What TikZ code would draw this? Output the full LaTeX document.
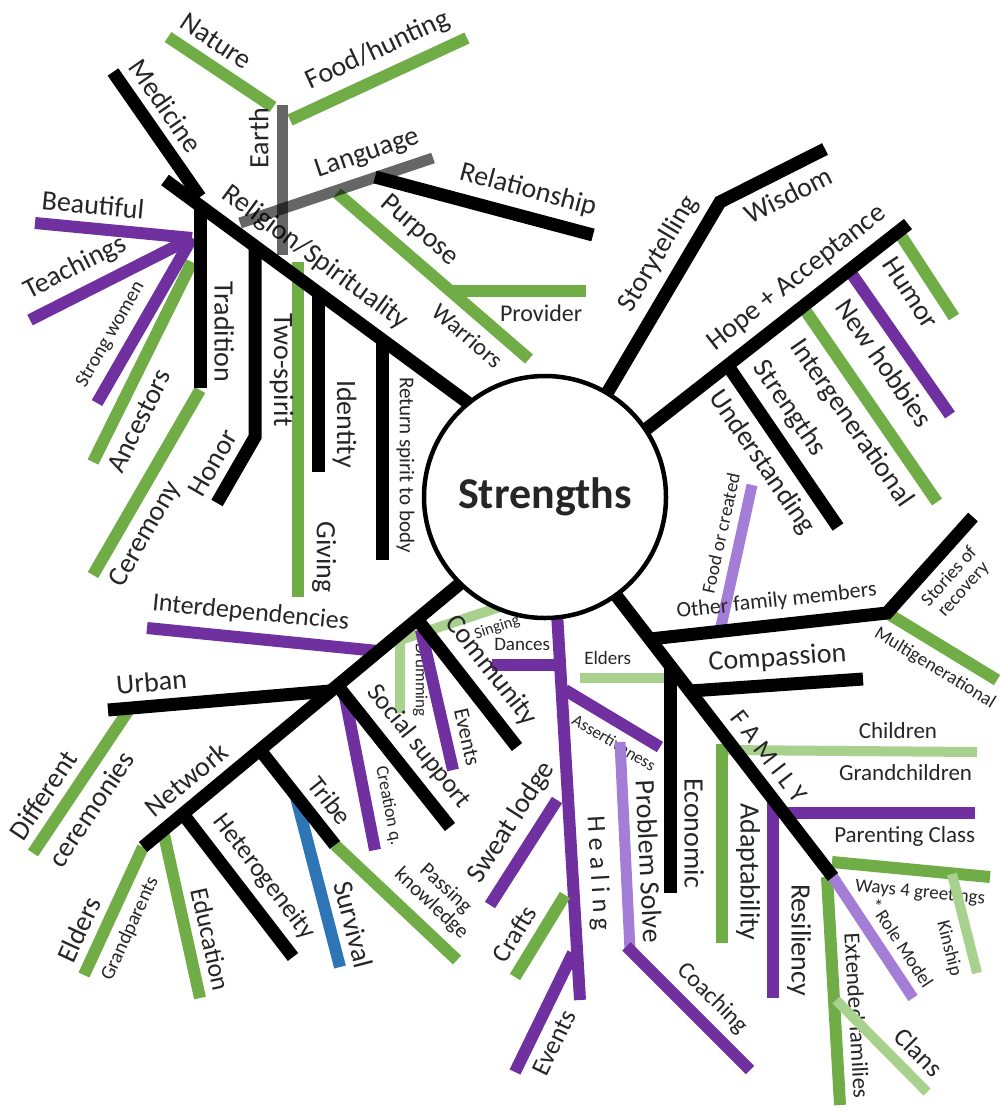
\documentclass[tikz,border=0pt]{standalone}
\usepackage{fontspec}
\setmainfont{Carlito}
\definecolor{cgreen}{HTML}{70AD47}
\definecolor{cpurple}{HTML}{7030A0}
\definecolor{clgreen}{HTML}{A9D18E}
\definecolor{clpurple}{HTML}{A47DD6}
\definecolor{cblue}{HTML}{2E75B6}
\definecolor{ctext}{HTML}{262626}
\tikzset{
  blk/.style={line width=13pt, draw=black},
  grn/.style={line width=12pt, draw=cgreen},
  pur/.style={line width=12pt, draw=cpurple},
  lgrn/.style={line width=10pt, draw=clgreen},
  lpur/.style={line width=11pt, draw=clpurple},
  blu/.style={line width=12pt, draw=cblue},
  gry/.style={line width=11pt, draw=black, draw opacity=0.6},
  fs/.style={font=\fontsize{#1}{#1}\selectfont},
  lab/.style={text=ctext, inner sep=8pt, fs=28},
  vlab/.style={lab, rotate=-90, anchor=south},
}
\begin{document}
\begin{tikzpicture}[x=1pt,y=-1pt]
\useasboundingbox (0,0) rectangle (999,1111);
\fill[white] (0,0) rectangle (999,1111);

% ---------- points: Religion / Spirituality cluster
\coordinate (rel0) at (165,180);  \coordinate (rel1) at (475,408);
\coordinate (med0) at (113,72);   \coordinate (med1) at (200,197);
\coordinate (tra0) at (200,206);  \coordinate (tra1) at (200,388);
\coordinate (hub)  at (192,238);
\coordinate (bea)  at (35,223);   \coordinate (tea) at (30,320);  \coordinate (stw) at (97,403);
\coordinate (anc0) at (93,462);   \coordinate (anc1) at (192,262);
\coordinate (cer0) at (93,575);   \coordinate (cer1) at (200,390);
\coordinate (tws0) at (255,244);  \coordinate (tws1) at (255,437); \coordinate (hon) at (217,503);
\coordinate (giv0) at (298,262);  \coordinate (giv1) at (298,597);
\coordinate (ide0) at (318,292);  \coordinate (ide1) at (318,472);
\coordinate (ret0) at (382,338);  \coordinate (ret1) at (382,560);
\coordinate (ear0) at (282,105);  \coordinate (ear1) at (282,255);
\coordinate (nat0) at (168,37);   \coordinate (nat1) at (273,107);
\coordinate (foo0) at (290,120);  \coordinate (foo1) at (467,38);
\coordinate (lan0) at (240,223);  \coordinate (lan1) at (433,158);
\coordinate (rls0) at (375,177);  \coordinate (rls1) at (593,235);
\coordinate (pur0) at (337,193);  \coordinate (pur1) at (529,359);
\coordinate (pro0) at (450,291);  \coordinate (pro1) at (586,291);

% ---------- points: upper right
\coordinate (sto0) at (603,400);  \coordinate (sto1) at (720,202); \coordinate (wis) at (825,149);
\coordinate (hop0) at (640,434);  \coordinate (hop1) at (908,224);
\coordinate (hum0) at (898,231);  \coordinate (hum1) at (954,317);
\coordinate (nho0) at (849,270);  \coordinate (nho1) at (950,415);
\coordinate (int0) at (803,307);  \coordinate (int1) at (937,502);
\coordinate (stn0) at (728,366);  \coordinate (stn1) at (838,527);

% ---------- points: family
\coordinate (fam0) at (605,581);  \coordinate (fam1) at (833,877); \coordinate (rol) at (913,998);
\coordinate (oth0) at (650,639);  \coordinate (oth1) at (887,613); \coordinate (sor) at (973,517);
\coordinate (mul)  at (997,680);
\coordinate (fcr0) at (720,631);  \coordinate (fcr1) at (752,485);
\coordinate (com0) at (690,691);  \coordinate (com1) at (863,679);
\coordinate (eco0) at (670,665);  \coordinate (eco1) at (670,893);
\coordinate (eld0) at (580,678);  \coordinate (eld1) at (664,678);
\coordinate (chi0) at (722,750);  \coordinate (chi1) at (977,752);
\coordinate (ada0) at (722,744);  \coordinate (ada1) at (722,943);
\coordinate (par0) at (785,813);  \coordinate (par1) at (975,813);
\coordinate (res0) at (773,799);  \coordinate (res1) at (773,998);
\coordinate (way0) at (832,862);  \coordinate (way1) at (990,877);
\coordinate (kin0) at (952,874);  \coordinate (kin1) at (977,973);
\coordinate (ext0) at (827,877);  \coordinate (ext1) at (840,1105);
\coordinate (cla0) at (836,1000); \coordinate (cla1) at (927,1092);

% ---------- points: healing
\coordinate (hea0) at (556,596);  \coordinate (hea1) at (580,1000);
\coordinate (dan0) at (492,665);  \coordinate (dan1) at (562,665);
\coordinate (ass0) at (565,690);  \coordinate (ass1) at (660,747);
\coordinate (prs0) at (620,742);  \coordinate (prs1) at (630,950); \coordinate (coa) at (750,1070);
\coordinate (swe0) at (490,905);  \coordinate (swe1) at (557,800);
\coordinate (cra0) at (515,977);  \coordinate (cra1) at (565,895);
\coordinate (evb0) at (515,1072); \coordinate (evb1) at (573,953);

% ---------- points: community / network
\coordinate (net0) at (143,847);  \coordinate (net1) at (480,567);
\coordinate (cmm0) at (417,619);  \coordinate (cmm1) at (517,747);
\coordinate (sin0) at (400,640);  \coordinate (sin1) at (506,605); \coordinate (dru) at (400,713);
\coordinate (evc0) at (421,630);  \coordinate (evc1) at (453,770);
\coordinate (itd0) at (147,628);  \coordinate (itd1) at (378,651);
\coordinate (urb0) at (108,710);  \coordinate (urb1) at (330,691);
\coordinate (dif0) at (33,853);   \coordinate (dif1) at (130,708);
\coordinate (soc0) at (337,685);  \coordinate (soc1) at (450,827);
\coordinate (cre0) at (345,697);  \coordinate (cre1) at (375,850);
\coordinate (tri0) at (260,750);  \coordinate (tri1) at (335,845);
\coordinate (sur0) at (296,797);  \coordinate (sur1) at (340,967);
\coordinate (pas0) at (335,845);  \coordinate (pas1) at (457,960);
\coordinate (het0) at (183,814);  \coordinate (het1) at (293,957);
\coordinate (eln0) at (84,975);   \coordinate (eln1) at (143,847);
\coordinate (edu0) at (163,830);  \coordinate (edu1) at (200,998);

% ================= coloured twigs
\draw[pur] (bea) -- (hub) node[lab, sloped, above, pos=.356] (t-bea) {Beautiful};
\draw[pur] (tea) -- (hub) node[lab, sloped, above, pos=.353] (t-tea) {Teachings};
\draw[pur] (stw) -- (hub) node[lab, fs=20, sloped, above, pos=.347] (t-stw) {Strong women};
\draw[grn] (anc0) -- (anc1) node[lab, sloped, below, pos=.256] (t-anc) {Ancestors};
\draw[grn] (cer0) -- (cer1) node[lab, sloped, below, pos=.288] (t-cer) {Ceremony};
\draw[grn] (giv0) -- (giv1) node[vlab, pos=.881] (t-giv) {Giving};
\draw[grn] (nat0) -- (nat1) node[lab, sloped, above, pos=.334] (t-nat) {Nature};
\draw[grn] (foo0) -- (foo1) node[lab, sloped, above, pos=.559] (t-foo) {Food/hunting};
\draw[grn] (pur0) -- (pur1) node[lab, sloped, above, pos=.342] (t-pps) {Purpose}
                            node[lab, fs=24, sloped, below, pos=.758] (t-war) {Warriors};
\draw[grn] (pro0) -- (pro1) node[lab, fs=24, below, pos=.67] (t-pro) {Provider};

\draw[grn] (hum0) -- (hum1) node[lab, sloped, below, pos=.573] (t-hum) {Humor};
\draw[pur] (nho0) -- (nho1) node[lab, sloped, below, pos=.547] (t-nho) {New hobbies};
\draw[grn] (int0) -- (int1) node[lab, sloped, below, pos=.52] (t-int) {Intergenerational};

\draw[lpur] (fcr0) -- (fcr1) node[lab, fs=19, sloped, above, pos=.64] (t-fcr) {Food or created};
\draw[grn] (oth1) -- (mul) node[lab, fs=19, sloped, below, pos=.54] (t-mul) {Multigenerational};
\draw[lgrn] (eld0) -- (eld1) node[lab, fs=19, above, pos=.33] (t-eld) {Elders};
\draw[lgrn] (chi0) -- (chi1) node[lab, fs=23, above, pos=.69] (t-chi) {Children}
                              node[lab, fs=23, below, pos=.72] (t-gch) {Grandchildren};
\draw[grn] (ada0) -- (ada1) node[vlab, pos=.643] (t-ada) {Adaptability};
\draw[pur] (par0) -- (par1) node[lab, fs=23, below, pos=.63] (t-par) {Parenting Class};
\draw[pur] (res0) -- (res1) node[vlab, pos=.709] (t-res) {Resiliency};
\draw[grn] (way0) -- (way1) node[lab, fs=19, sloped, below, pos=.571] (t-way) {Ways 4 greetings};
\draw[lgrn] (kin0) -- (kin1) node[lab, fs=19, sloped, below, pos=.70] (t-kin) {Kinship};
\draw[grn] (ext0) -- (ext1) node[lab, fs=23, sloped, above, pos=.613] (t-ext) {Extended families};
\draw[lgrn] (cla0) -- (cla1) node[lab, fs=26, sloped, above, pos=.737] (t-cla) {Clans};
\draw[lpur] (fam1) -- (rol) node[lab, fs=19, sloped, above, pos=.638] (t-rol) {* Role Model};

\draw[pur] (hea0) -- (hea1) node[lab, fs=26, sloped, above, pos=.69] (t-hea) {H e a l i n g};
\draw[pur] (dan0) -- (dan1) node[lab, fs=19, above, pos=.43] (t-dan) {Dances};
\draw[pur] (ass0) -- (ass1) node[lab, fs=17, sloped, below, pos=.625] (t-ass) {Assertiveness};
\draw[lpur] (prs0) -- (prs1) node[lab, sloped, above, pos=.58] (t-prs) {Problem Solve};
\draw[pur, shorten <=-5pt] (prs1) -- (coa) node[lab, fs=24, sloped, above, pos=.546] (t-coa) {Coaching};
\draw[pur] (swe0) -- (swe1) node[lab, sloped, above, pos=.652] (t-swe) {Sweat lodge};
\draw[grn] (cra0) -- (cra1) node[lab, fs=26, sloped, above, pos=.379] (t-cra) {Crafts};
\draw[pur] (evb0) -- (evb1) node[lab, fs=26, sloped, below, pos=.326] (t-evb) {Events};

\draw[lgrn] (dru) -- (sin0) node[vlab, fs=17, pos=.452] (t-dru) {Drumming}
                  -- (sin1) node[lab, fs=16, sloped, below, pos=.86, inner sep=7pt] (t-sin) {Singing};
\draw[pur] (evc0) -- (evc1) node[lab, fs=22, sloped, above, pos=.797] (t-evc) {Events};
\draw[pur] (itd0) -- (itd1) node[lab, fs=26, sloped, above, pos=.438] (t-itd) {Interdependencies};
\draw[grn] (dif0) -- (dif1) node[lab, sloped, above, pos=.307] (t-dif) {Different}
                            node[lab, sloped, below, pos=.394] (t-cmn) {ceremonies};
\draw[pur] (cre0) -- (cre1) node[lab, fs=18, sloped, above, pos=.738] (t-cre) {Creation q.};
\draw[blu] (sur0) -- (sur1) node[lab, sloped, above, pos=.786] (t-sur) {Survival};
\draw[grn] (pas0) -- (pas1) node[lab, fs=21, sloped, above, pos=.658, align=center] (t-pas) {Passing\\knowledge};
\draw[grn] (eln0) -- (eln1) node[lab, sloped, above, pos=.278] (t-eln) {Elders}
                            node[lab, fs=20, sloped, below, pos=.435] (t-gpa) {Grandparents};
\draw[grn] (edu0) -- (edu1) node[lab, fs=26, sloped, above, pos=.68] (t-edu) {Education};

% ================= black branches
\draw[blk] (rel0) -- (rel1) node[lab, sloped, above, pos=.434] (t-rel) {Religion/Spirituality};
\draw[blk] (med0) -- (med1) node[lab, sloped, above, pos=.38] (t-med) {Medicine};
\draw[blk] (tra0) -- (tra1) node[vlab, pos=.692] (t-tra) {Tradition};
\draw[blk] (hon) -- (tws1) node[lab, sloped, above, pos=.43] (t-hon) {Honor}
                 -- (tws0) node[vlab, pos=.347] (t-tws) {Two-spirit};
\draw[blk] (ide0) -- (ide1) node[vlab, pos=.733] (t-ide) {Identity};
\draw[blk] (ret0) -- (ret1) node[vlab, fs=21, pos=.572] (t-ret) {Return spirit to body};
\draw[blk] (rls0) -- (rls1) node[lab, sloped, above, pos=.671] (t-rls) {Relationship};

\draw[blk] (sto0) -- (sto1) node[lab, sloped, above, pos=.67] (t-sto) {Storytelling}
                  -- (wis) node[lab, sloped, below, pos=.543] (t-wis) {Wisdom};
\draw[blk] (hop0) -- (hop1) node[lab, sloped, above, pos=.645] (t-hop) {Hope + Acceptance};
\draw[blk] (stn0) -- (stn1) node[lab, sloped, above, pos=.357] (t-stn) {Strengths}
                            node[lab, sloped, below, pos=.505] (t-und) {Understanding};

\draw[blk] (fam0) -- (fam1) node[lab, fs=26, sloped, above, pos=.64] (t-fam) {F A M I L Y};
\draw[blk] (oth0) -- (oth1) node[lab, fs=22, sloped, above, pos=.545] (t-oth) {Other family members}
                  -- (sor) node[lab, fs=19, sloped, below, pos=.532, align=center] (t-sor) {Stories of\\recovery};
\draw[blk] (com0) -- (com1) node[lab, sloped, above, pos=.516] (t-com) {Compassion};
\draw[blk] (eco0) -- (eco1) node[vlab, pos=.737] (t-eco) {Economic};

\draw[blk] (net0) -- (net1) node[lab, sloped, above, pos=.175] (t-net) {Network};
\draw[blk] (cmm0) -- (cmm1) node[lab, sloped, above, pos=.53] (t-cmm) {Community};
\draw[blk] (urb0) -- (urb1) node[lab, sloped, above, pos=.205] (t-urb) {Urban};
\draw[blk] (soc0) -- (soc1) node[lab, fs=26, sloped, above, pos=.544] (t-soc) {Social support};
\draw[blk] (tri0) -- (tri1) node[lab, fs=26, sloped, above, pos=.689] (t-tri) {Tribe};
\draw[blk] (het0) -- (het1) node[lab, fs=26, sloped, above, pos=.549] (t-het) {Heterogeneity};

% ================= translucent grey branches
\draw[gry] (ear0) -- (ear1) node[lab, rotate=90, anchor=south, pos=.22] (t-ear) {Earth};
\draw[gry] (lan0) -- (lan1) node[lab, sloped, above, pos=.702] (t-lan) {Language};

% ================= centre
\node[circle, draw=black, line width=4.5pt, fill=white, minimum size=242pt, inner sep=0pt,
      text=ctext, font={\fontsize{44}{44}\selectfont\bfseries}] (S) at (545,497) {Strengths};
\end{tikzpicture}
\end{document}
